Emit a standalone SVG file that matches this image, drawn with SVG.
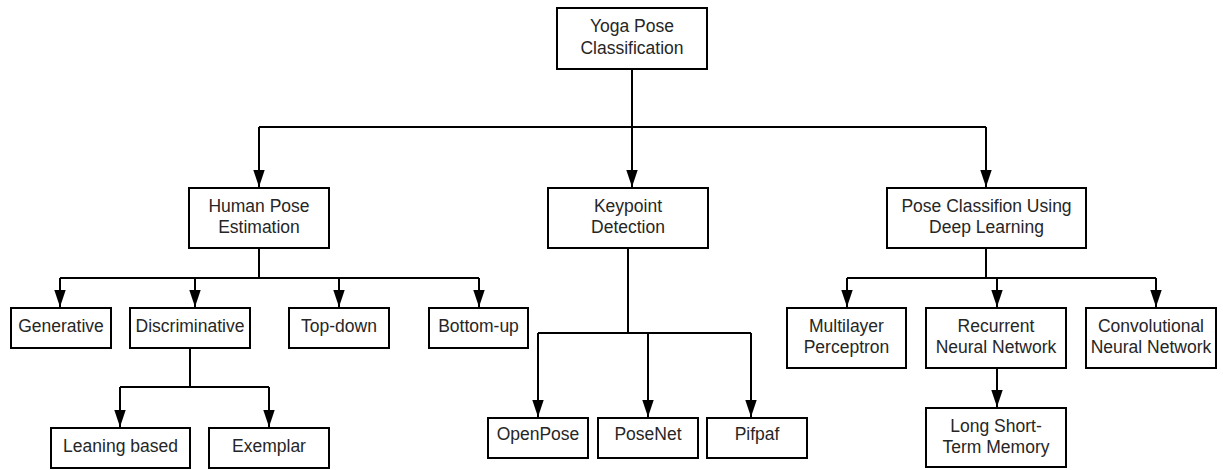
<svg xmlns="http://www.w3.org/2000/svg" width="1223" height="470" viewBox="0 0 1223 470">
  <style>
    .box { fill: #ffffff; stroke: #000000; stroke-width: 2; }
    .lbl { font-family: "Liberation Sans", Arial, sans-serif; font-size: 17.5px; fill: #262626; text-anchor: middle; }
    .wire { fill: none; stroke: #000000; stroke-width: 2; }
    .arrow { fill: none; stroke: #000000; stroke-width: 2; marker-end: url(#head); }
  </style>
  <defs>
    <marker id="head" markerUnits="userSpaceOnUse" markerWidth="17" markerHeight="12" viewBox="0 0 17 12" refX="17" refY="6" orient="auto">
      <path d="M0,0.3 L17,6 L0,11.7 Z" fill="#000000"/>
    </marker>
  </defs>
  <rect width="1223" height="470" fill="#ffffff"/>

  <!-- connectors -->
  <g id="connectors">
    <!-- root to level one -->
    <path class="wire" d="M632,69 V127"/>
    <path class="wire" d="M259,127 H986"/>
    <path class="arrow" d="M259,127 V187"/>
    <path class="arrow" d="M632,127 V187"/>
    <path class="arrow" d="M986,127 V187"/>
    <!-- human pose estimation branches -->
    <path class="wire" d="M259,248 V278"/>
    <path class="wire" d="M60,278 H479"/>
    <path class="arrow" d="M60,278 V307"/>
    <path class="arrow" d="M195,278 V307"/>
    <path class="arrow" d="M339,278 V307"/>
    <path class="arrow" d="M479,278 V307"/>
    <!-- discriminative branches -->
    <path class="wire" d="M190,348 V387"/>
    <path class="wire" d="M120,387 H269"/>
    <path class="arrow" d="M120,387 V427"/>
    <path class="arrow" d="M269,387 V427"/>
    <!-- keypoint detection branches -->
    <path class="wire" d="M628,248 V333"/>
    <path class="wire" d="M538,333 H751"/>
    <path class="arrow" d="M538,333 V417"/>
    <path class="arrow" d="M648,333 V417"/>
    <path class="arrow" d="M751,333 V417"/>
    <!-- deep learning branches -->
    <path class="wire" d="M986,248 V278"/>
    <path class="wire" d="M847,278 H1156"/>
    <path class="arrow" d="M847,278 V307"/>
    <path class="arrow" d="M997,278 V307"/>
    <path class="arrow" d="M1156,278 V307"/>
    <!-- rnn to lstm -->
    <path class="arrow" d="M997,368 V407"/>
  </g>

  <g id="root">
    <rect class="box" x="557" y="8" width="150" height="61"/>
    <text class="lbl" x="632" y="32">Yoga Pose</text>
    <text class="lbl" x="632" y="53.5">Classification</text>
  </g>

  <g id="human-pose-estimation">
    <rect class="box" x="189" y="188" width="140" height="60"/>
    <text class="lbl" x="259" y="211.5">Human Pose</text>
    <text class="lbl" x="259" y="233">Estimation</text>
  </g>

  <g id="keypoint-detection">
    <rect class="box" x="548" y="188" width="160" height="60"/>
    <text class="lbl" x="628" y="211.5">Keypoint</text>
    <text class="lbl" x="628" y="233">Detection</text>
  </g>

  <g id="pose-classification-dl">
    <rect class="box" x="887" y="188" width="199" height="60"/>
    <text class="lbl" x="986.5" y="211.5">Pose Classifion Using</text>
    <text class="lbl" x="986.5" y="233">Deep Learning</text>
  </g>

  <g id="generative">
    <rect class="box" x="11" y="308" width="100" height="40"/>
    <text class="lbl" x="61" y="332">Generative</text>
  </g>

  <g id="discriminative">
    <rect class="box" x="130" y="308" width="120" height="40"/>
    <text class="lbl" x="190" y="332">Discriminative</text>
  </g>

  <g id="top-down">
    <rect class="box" x="289" y="308" width="100" height="40"/>
    <text class="lbl" x="339" y="332">Top-down</text>
  </g>

  <g id="bottom-up">
    <rect class="box" x="429" y="308" width="99" height="40"/>
    <text class="lbl" x="478.5" y="332">Bottom-up</text>
  </g>

  <g id="leaning-based">
    <rect class="box" x="51" y="428" width="139" height="40"/>
    <text class="lbl" x="120.5" y="452">Leaning based</text>
  </g>

  <g id="exemplar">
    <rect class="box" x="209" y="428" width="120" height="40"/>
    <text class="lbl" x="269" y="452">Exemplar</text>
  </g>

  <g id="openpose">
    <rect class="box" x="488" y="418" width="100" height="40"/>
    <text class="lbl" x="538" y="440">OpenPose</text>
  </g>

  <g id="posenet">
    <rect class="box" x="598" y="418" width="100" height="40"/>
    <text class="lbl" x="648" y="440">PoseNet</text>
  </g>

  <g id="pifpaf">
    <rect class="box" x="707" y="418" width="100" height="40"/>
    <text class="lbl" x="757" y="440">Pifpaf</text>
  </g>

  <g id="multilayer-perceptron">
    <rect class="box" x="787" y="308" width="119" height="60"/>
    <text class="lbl" x="846.5" y="331.5">Multilayer</text>
    <text class="lbl" x="846.5" y="353">Perceptron</text>
  </g>

  <g id="recurrent-nn">
    <rect class="box" x="926" y="308" width="140" height="60"/>
    <text class="lbl" x="996" y="331.5">Recurrent</text>
    <text class="lbl" x="996" y="353">Neural Network</text>
  </g>

  <g id="convolutional-nn">
    <rect class="box" x="1086" y="308" width="130" height="60"/>
    <text class="lbl" x="1151" y="331.5">Convolutional</text>
    <text class="lbl" x="1151" y="353">Neural Network</text>
  </g>

  <g id="lstm">
    <rect class="box" x="926" y="408" width="140" height="59"/>
    <text class="lbl" x="996" y="431.5">Long Short-</text>
    <text class="lbl" x="996" y="453">Term Memory</text>
  </g>
</svg>
